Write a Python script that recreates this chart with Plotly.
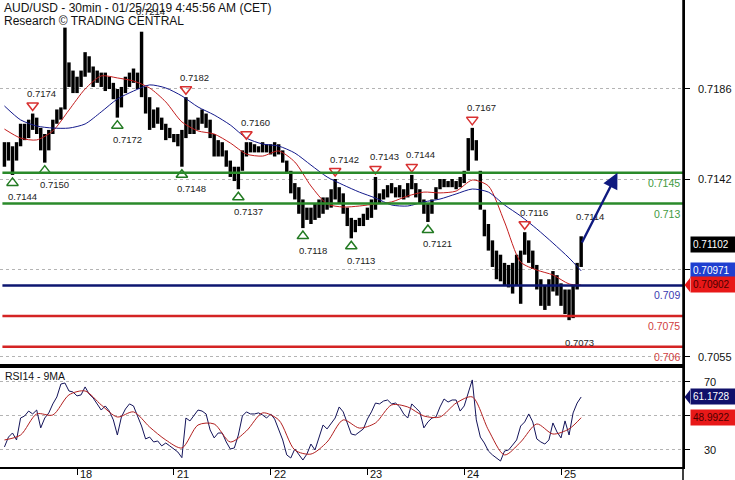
import plotly.graph_objects as go

# ---------------- data ----------------
title_line1 = "AUD/USD - 30min - 01/25/2019 4:45:56 AM (CET)"
title_line2 = "Research \u00a9 TRADING CENTRAL"
rsi_title = "RSI14 - 9MA"

day_labels = ["18", "21", "22", "23", "24", "25"]
day_start_bar = [0, 48, 96, 144, 192, 240]      # 30-min bar index where each day starts
first_bar = -36                                  # first hourly bar (in 30-min units)
bar_step = 2                                     # hourly bars

high = [
    0.7160, 0.7160, 0.7158, 0.7160, 0.7169, 0.7169, 0.7171, 0.7174, 0.7172, 0.7167,
    0.7164, 0.7166, 0.7171, 0.7176, 0.7177, 0.7216, 0.7199, 0.7195, 0.7192, 0.7195,
    0.7204, 0.7202, 0.7197, 0.7195, 0.7194, 0.7194, 0.7192, 0.7189, 0.7186, 0.7187,
    0.7192, 0.7194, 0.7196, 0.7194, 0.7214, 0.7187, 0.7182, 0.7176, 0.7177, 0.7172,
    0.7169, 0.7167, 0.7164, 0.7164, 0.7166, 0.7182, 0.7171, 0.7171, 0.7172, 0.7176,
    0.7174, 0.7171, 0.7164, 0.7161, 0.7160, 0.7156, 0.7151, 0.7148, 0.7148, 0.7156,
    0.7160, 0.7160, 0.7159, 0.7158, 0.7160, 0.7159, 0.7159, 0.7160, 0.7159, 0.7156,
    0.7151, 0.7146, 0.7140, 0.7138, 0.7132, 0.7128, 0.7128, 0.7130, 0.7132, 0.7133,
    0.7133, 0.7137, 0.7142, 0.7138, 0.7135, 0.7128, 0.7123, 0.7122, 0.7123, 0.7125,
    0.7128, 0.7132, 0.7143, 0.7135, 0.7137, 0.7139, 0.7140, 0.7138, 0.7139, 0.7137,
    0.7140, 0.7144, 0.7140, 0.7137, 0.7132, 0.7130, 0.7132, 0.7138, 0.7142, 0.7142,
    0.7141, 0.7142, 0.7141, 0.7143, 0.7146, 0.7162, 0.7167, 0.7161, 0.7146, 0.7127,
    0.7120, 0.7112, 0.7107, 0.7105, 0.7101, 0.7100, 0.7101, 0.7105, 0.7107, 0.7116,
    0.7112, 0.7107, 0.7100, 0.7093, 0.7090, 0.7093, 0.7097, 0.7095, 0.7091, 0.7088,
    0.7088, 0.7090, 0.7101, 0.7114,
]
low = [
    0.7148, 0.7151, 0.7144, 0.7151, 0.7158, 0.7161, 0.7162, 0.7166, 0.7164, 0.7156,
    0.7150, 0.7156, 0.7164, 0.7169, 0.7171, 0.7176, 0.7187, 0.7184, 0.7184, 0.7187,
    0.7192, 0.7194, 0.7187, 0.7189, 0.7187, 0.7185, 0.7186, 0.7181, 0.7172, 0.7177,
    0.7184, 0.7187, 0.7189, 0.7186, 0.7182, 0.7174, 0.7166, 0.7167, 0.7169, 0.7166,
    0.7161, 0.7162, 0.7160, 0.7158, 0.7148, 0.7162, 0.7164, 0.7164, 0.7166, 0.7169,
    0.7167, 0.7162, 0.7153, 0.7153, 0.7153, 0.7148, 0.7143, 0.7141, 0.7137, 0.7146,
    0.7153, 0.7155, 0.7155, 0.7155, 0.7155, 0.7155, 0.7154, 0.7153, 0.7154, 0.7150,
    0.7145, 0.7135, 0.7132, 0.7125, 0.7118, 0.7122, 0.7120, 0.7122, 0.7123, 0.7125,
    0.7127, 0.7128, 0.7132, 0.7130, 0.7125, 0.7119, 0.7113, 0.7116, 0.7119, 0.7119,
    0.7122, 0.7123, 0.7127, 0.7130, 0.7132, 0.7133, 0.7135, 0.7133, 0.7133, 0.7132,
    0.7133, 0.7137, 0.7133, 0.7130, 0.7125, 0.7121, 0.7125, 0.7132, 0.7137, 0.7138,
    0.7138, 0.7138, 0.7137, 0.7138, 0.7140, 0.7146, 0.7156, 0.7151, 0.7127, 0.7114,
    0.7107, 0.7099, 0.7093, 0.7092, 0.7090, 0.7089, 0.7086, 0.7090, 0.7081, 0.7105,
    0.7101, 0.7098, 0.7088, 0.7080, 0.7078, 0.7080, 0.7087, 0.7085, 0.7080, 0.7076,
    0.7073, 0.7074, 0.7088, 0.7099,
]
last_close = 0.71102

ma_bars = list(range(-36, 245, 8)) + [250]
ma_fast = [
    0.71664, 0.71620, 0.71611, 0.71655, 0.71757, 0.71860, 0.71924, 0.71914, 0.71899, 0.71865,
    0.71797, 0.71699, 0.71655, 0.71640, 0.71596, 0.71542, 0.71532, 0.71557, 0.71503, 0.71386,
    0.71298, 0.71283, 0.71288, 0.71298, 0.71308, 0.71337, 0.71356, 0.71352, 0.71361, 0.71415,
    0.71386, 0.71210, 0.71014, 0.70975, 0.70951, 0.70907, 0.70902,
]
ma_slow = [
    0.71777, 0.71709, 0.71679, 0.71669, 0.71669, 0.71689, 0.71748, 0.71811, 0.71850, 0.71880,
    0.71865, 0.71826, 0.71772, 0.71733, 0.71684, 0.71620, 0.71591, 0.71581, 0.71547, 0.71488,
    0.71430, 0.71391, 0.71356, 0.71327, 0.71293, 0.71288, 0.71308, 0.71322, 0.71347, 0.71371,
    0.71356, 0.71293, 0.71239, 0.71176, 0.71107, 0.71034, 0.70971,
]

rsi14 = [
    31.8, 37.6, 40.0, 35.9, 48.8, 50.0, 52.9, 51.2, 53.5, 43.0,
    48.8, 51.8, 57.1, 61.2, 68.8, 69.4, 64.7, 64.1, 61.8, 62.4,
    67.1, 62.9, 60.6, 57.1, 53.5, 55.9, 52.9, 47.7, 38.8, 49.4,
    54.1, 57.1, 55.9, 50.0, 44.1, 36.5, 37.6, 34.7, 35.3, 32.4,
    34.1, 32.4, 30.6, 28.8, 25.5, 48.8, 47.1, 50.0, 53.5, 52.9,
    51.2, 41.8, 37.1, 40.0, 40.0, 34.7, 30.6, 31.2, 38.8, 50.0,
    52.4, 51.2, 51.2, 51.8, 50.6, 48.8, 51.2, 48.2, 41.8, 35.9,
    27.1, 25.3, 30.6, 27.6, 24.1, 27.6, 33.5, 30.0, 37.1, 44.7,
    42.4, 45.3, 48.8, 55.3, 52.4, 45.9, 39.4, 38.8, 40.6, 42.4,
    48.2, 52.4, 57.6, 57.1, 58.8, 59.4, 57.1, 57.6, 55.3, 51.2,
    48.8, 57.1, 54.7, 52.4, 43.0, 46.5, 48.8, 49.4, 55.3, 60.0,
    58.2, 59.4, 59.4, 52.9, 55.9, 64.1, 71.2, 47.7, 37.6, 34.1,
    29.4, 27.1, 25.3, 23.5, 29.4, 30.0, 32.9, 35.9, 44.1, 46.5,
    51.2, 46.5, 36.5, 34.7, 33.5, 35.9, 45.9, 40.6, 37.1, 47.1,
    38.8, 51.8, 57.6, 61.1728,
]
rsi_ma9 = [
    35.9, 38.8, 51.2, 50.6, 62.4, 64.7, 56.5, 49.4, 52.4, 43.5,
    35.9, 31.2, 44.7, 45.3, 34.7, 41.2, 51.8, 47.7, 30.0, 27.6,
    34.7, 47.7, 42.9, 45.9, 56.5, 55.3, 50.0, 49.4, 57.6, 61.2,
    41.8, 27.1, 34.7, 45.3, 39.4, 42.4, 48.9922,
]

level_values = [0.7145, 0.7130, 0.7090, 0.7075, 0.7060]
level_text = ["0.7145", "0.713", "0.709", "0.7075", "0.706"]

price_ticks = [0.7186, 0.7142, 0.7098, 0.7055]
price_tick_text = ["0.7186", "0.7142", "", "0.7055"]
rsi_ticks = [70, 50, 30]
rsi_tick_text = ["70", "", "30"]

pivot_high_bars = [7, 34, 45, 60, 82, 92, 101, 116, 129, 143]
pivot_high_marked = [1, 0, 1, 1, 1, 1, 1, 1, 1, 0]
pivot_low_bars = [2, 10, 28, 44, 58, 74, 86, 105, 140]
pivot_low_marked = [1, 1, 1, 1, 1, 1, 1, 1, 0]

target_price = 0.7145
target_bar = 268

# ---------------- styling / geometry ----------------
FONT = "Liberation Sans, Arial, sans-serif"
x_range = [-38.2, 300.5]
y_range = [0.70506, 0.72295]
rsi_range = [20, 79.4]
main_bottom = 0.2163
main_px = 366.0
price_per_px = (y_range[1] - y_range[0]) / main_px

c_green = "#2a8a2a"
c_green_txt = "#3f9a3f"
c_navy = "#0c1670"
c_red = "#d42424"
c_red_ma = "#c41e1e"
c_blue_ma = "#141a8c"
level_line_colors = [c_green, c_green, c_navy, c_red, c_red]
level_text_colors = [c_green_txt, c_green_txt, "#3a3ab0", "#d04040", "#d04040"]

bar_x = [first_bar + bar_step * i for i in range(len(high))]

fig = go.Figure()

# price bars (floating high-low bars)
fig.add_trace(go.Bar(
    x=bar_x, y=[h - l for h, l in zip(high, low)], base=low,
    width=1.7, marker=dict(color="black", line=dict(width=0)),
    xaxis="x", yaxis="y", hoverinfo="skip"))

fig.add_trace(go.Scatter(x=ma_bars, y=ma_fast, mode="lines",
                         line=dict(color=c_red_ma, width=1, shape="spline", smoothing=0.7),
                         xaxis="x", yaxis="y"))
fig.add_trace(go.Scatter(x=ma_bars, y=ma_slow, mode="lines",
                         line=dict(color=c_blue_ma, width=1, shape="spline", smoothing=0.7),
                         xaxis="x", yaxis="y"))

# pivot triangles
tri_off = 8 * price_per_px
hx = [bar_x[i] for i, m in zip(pivot_high_bars, pivot_high_marked) if m]
hy = [high[i] + tri_off for i, m in zip(pivot_high_bars, pivot_high_marked) if m]
lx = [bar_x[i] for i, m in zip(pivot_low_bars, pivot_low_marked) if m]
ly = [low[i] - tri_off for i, m in zip(pivot_low_bars, pivot_low_marked) if m]
fig.add_trace(go.Scatter(x=hx, y=hy, mode="markers",
                         marker=dict(symbol="triangle-down-open", size=10, color="#d83030",
                                     line=dict(width=1.5)),
                         xaxis="x", yaxis="y"))
fig.add_trace(go.Scatter(x=lx, y=ly, mode="markers",
                         marker=dict(symbol="triangle-up-open", size=10, color="#227a22",
                                     line=dict(width=1.5)),
                         xaxis="x", yaxis="y"))

# RSI
fig.add_trace(go.Scatter(x=bar_x, y=rsi14, mode="lines",
                         line=dict(color="#14145a", width=1),
                         xaxis="x2", yaxis="y2"))
fig.add_trace(go.Scatter(x=ma_bars, y=rsi_ma9, mode="lines",
                         line=dict(color="#b22020", width=1, shape="spline", smoothing=0.8),
                         xaxis="x2", yaxis="y2"))

shapes = []
for v, c in zip(level_values, level_line_colors):
    shapes.append(dict(type="line", xref="x", yref="y", x0=first_bar - 1, x1=x_range[1],
                       y0=v, y1=v, line=dict(color=c, width=2.5), layer="above"))
# right axis line through full height
shapes.append(dict(type="line", xref="paper", yref="paper", x0=1, x1=1, y0=-0.03, y1=1,
                   line=dict(color="black", width=1.5), layer="above"))

annotations = []
annotations.append(dict(xref="paper", yref="paper", x=0.003, y=1, xanchor="left", yanchor="top",
                        text=title_line1, showarrow=False, yshift=1,
                        font=dict(family=FONT, size=12, color="#111")))
annotations.append(dict(xref="paper", yref="paper", x=0.003, y=1, xanchor="left", yanchor="top",
                        text=title_line2, showarrow=False, yshift=-12,
                        font=dict(family=FONT, size=12, color="#111")))
annotations.append(dict(xref="paper", yref="paper", x=0.004, y=main_bottom, xanchor="left",
                        yanchor="top", text=rsi_title, showarrow=False, yshift=-2,
                        font=dict(family=FONT, size=10.5, color="#111")))

# day labels, to the right of each day tick
for b, t in zip(day_start_bar, day_labels):
    annotations.append(dict(xref="x2", yref="paper", x=b, y=0, xanchor="left", yanchor="middle",
                            text=t, showarrow=False, xshift=1, yshift=-7,
                            font=dict(family=FONT, size=11, color="#111")))

for i in pivot_high_bars:
    annotations.append(dict(xref="x", yref="y", x=bar_x[i], y=high[i], text=f"{high[i]:.4f}",
                            showarrow=False, xshift=9, yshift=20,
                            font=dict(family=FONT, size=9.5, color="#222")))
for i in pivot_low_bars:
    annotations.append(dict(xref="x", yref="y", x=bar_x[i], y=low[i], text=f"{low[i]:.4f}",
                            showarrow=False, xshift=10, yshift=-22,
                            font=dict(family=FONT, size=9.5, color="#222")))

for v, t, c in zip(level_values, level_text, level_text_colors):
    annotations.append(dict(xref="paper", yref="y", x=1, y=v, xanchor="right", yanchor="top",
                            text=t, showarrow=False, xshift=-1, yshift=-2,
                            font=dict(family=FONT, size=10.5, color=c)))

# forecast arrow
annotations.append(dict(xref="x", yref="y", x=target_bar, y=target_price,
                        axref="x", ayref="y", ax=bar_x[-1], ay=last_close,
                        text="", showarrow=True, arrowhead=2, arrowsize=1.3,
                        arrowwidth=2.4, arrowcolor="#0f1a80"))

# right-side value boxes
box_x = 1 + 7 / 683.0
def value_box(yref, val, txt, bg, fg):
    return dict(xref="paper", yref=yref, x=box_x, y=val, xanchor="left", yanchor="middle",
                text=txt, showarrow=False, bgcolor=bg, borderpad=2, width=44, align="left",
                font=dict(family=FONT, size=10, color=fg))

annotations.append(value_box("y", ma_slow[-1], f"{ma_slow[-1]:.5f}", "#1f3fd0", "white"))
annotations.append(value_box("y", ma_fast[-1], f"{ma_fast[-1]:.5f}", "#e81818", "#4a0000"))
annotations.append(value_box("y", last_close, f"{last_close:.5f}", "black", "white"))
annotations.append(value_box("y2", rsi14[-1], f"{rsi14[-1]:.4f}", "#10106a", "white"))
annotations.append(value_box("y2", rsi_ma9[-1], f"{rsi_ma9[-1]:.4f}", "#e81818", "#4a0000"))

# pointers on two boxes
px_x0 = 1 + 1.5 / 683.0
half_p = 7 * price_per_px
rsi_per_px = (rsi_range[1] - rsi_range[0]) / 100.5
half_r = 7 * rsi_per_px
shapes.append(dict(type="path", xref="paper", yref="y",
                   path=f"M {px_x0} {ma_fast[-1]} L {box_x} {ma_fast[-1] + half_p} L {box_x} {ma_fast[-1] - half_p} Z",
                   fillcolor="#e81818", line=dict(width=0), layer="above"))
shapes.append(dict(type="path", xref="paper", yref="y2",
                   path=f"M {px_x0} {rsi14[-1]} L {box_x} {rsi14[-1] + half_r} L {box_x} {rsi14[-1] - half_r} Z",
                   fillcolor="#10106a", line=dict(width=0), layer="above"))

fig.update_layout(
    width=735, height=480,
    margin=dict(l=0, r=52, t=0, b=13, autoexpand=False),
    paper_bgcolor="white", plot_bgcolor="white",
    showlegend=False, barmode="overlay",
    font=dict(family=FONT, size=10.5, color="#111"),
    xaxis=dict(domain=[0, 1], range=x_range, anchor="y", showticklabels=False,
               showline=True, linecolor="black", linewidth=1.5, ticks="",
               showgrid=False, zeroline=False, automargin=False),
    yaxis=dict(domain=[main_bottom, 1], range=y_range, side="right", anchor="x",
               tickvals=price_ticks, ticktext=price_tick_text, ticks="outside", ticklen=5,
               tickcolor="black", showline=True, linecolor="black", linewidth=1.5,
               showgrid=True, gridcolor="#b4b4b4", griddash="dot", gridwidth=1,
               zeroline=False, tickfont=dict(size=11, color="#111"), automargin=False,
               ticklabelstandoff=6),
    xaxis2=dict(domain=[0, 1], range=x_range, anchor="y2", matches="x",
                tickvals=day_start_bar, ticks="outside", ticklen=6, showticklabels=False,
                tickcolor="black", showline=True, mirror=True, linecolor="black",
                linewidth=1.5, showgrid=False, zeroline=False, automargin=False),
    yaxis2=dict(domain=[0, main_bottom], range=rsi_range, side="right", anchor="x2",
                tickvals=rsi_ticks, ticktext=rsi_tick_text, ticks="outside", ticklen=5,
                tickcolor="black", showline=True, linecolor="black", linewidth=1.5,
                showgrid=True, gridcolor="#b4b4b4", griddash="dot", gridwidth=1,
                zeroline=False, tickfont=dict(size=11, color="#111"), automargin=False,
                ticklabelstandoff=12),
    shapes=shapes,
    annotations=annotations,
)

fig.write_html("out.html",
               config={"displayModeBar": False},
               post_script="document.body.style.margin='0px';document.body.style.overflow='hidden';")
